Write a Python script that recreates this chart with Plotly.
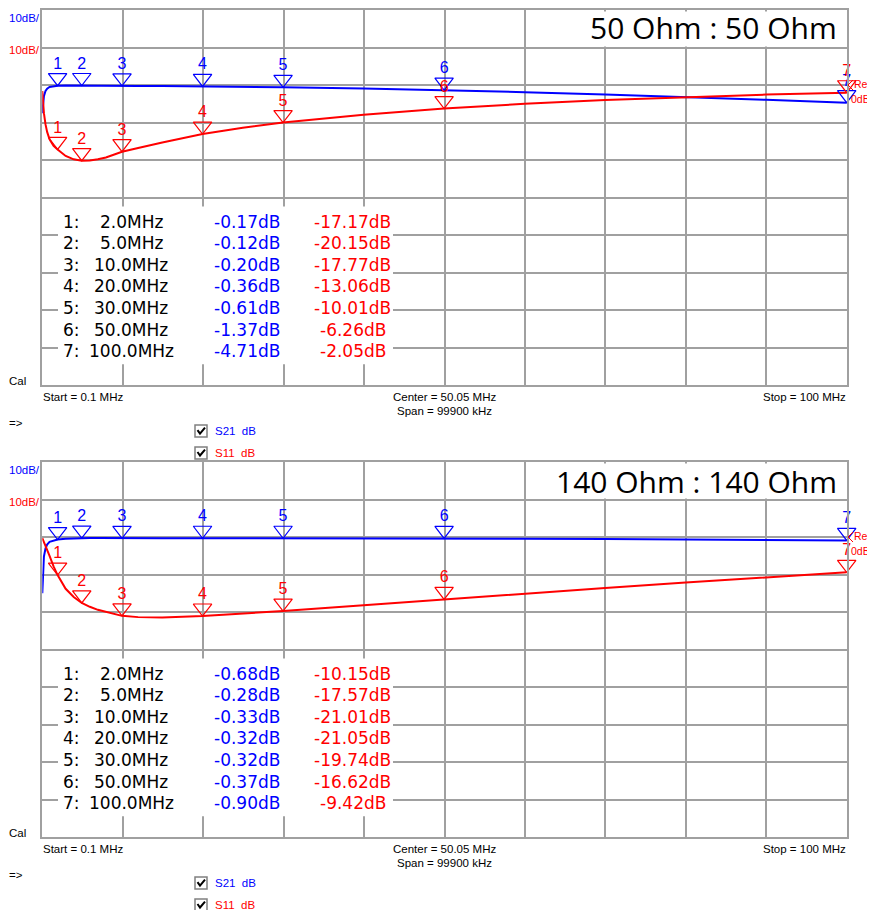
import plotly.graph_objects as go

# the page adds an 8 px body margin, so the figure is 8 px smaller than the window
PAGE = 8
W, H = 875 - PAGE, 910 - PAGE

freq_mhz = [0.1, 0.2, 0.3, 0.5, 0.7, 1.0, 1.5, 2, 3, 4, 5, 6, 7, 8, 10, 12, 15,
            20, 25, 30, 40, 50, 60, 70, 80, 90, 100]
s21_50 = [-7.5, -4.5, -3.0, -1.6, -0.95, -0.5, -0.26, -0.17, -0.13, -0.12, -0.12,
          -0.13, -0.14, -0.16, -0.20, -0.23, -0.28, -0.36, -0.48, -0.61, -0.95,
          -1.37, -1.9, -2.55, -3.2, -3.95, -4.71]
s11_50 = [-1.6, -5.0, -7.5, -10.5, -12.5, -14.5, -16.2, -17.17, -18.9, -19.8,
          -20.15, -20.1, -19.8, -19.3, -17.77, -16.8, -15.3, -13.06, -11.4,
          -10.01, -7.9, -6.26, -5.0, -4.0, -3.2, -2.55, -2.05]
s21_140 = [-15.0, -8.0, -5.2, -3.0, -2.0, -1.3, -0.9, -0.68, -0.45, -0.34, -0.28,
           -0.28, -0.29, -0.31, -0.33, -0.33, -0.33, -0.32, -0.32, -0.32, -0.34,
           -0.37, -0.45, -0.55, -0.65, -0.78, -0.90]
s11_140 = [-0.3, -0.8, -1.3, -2.4, -3.5, -5.0, -7.8, -10.15, -13.8, -16.0, -17.57,
           -18.6, -19.4, -20.0, -21.01, -21.35, -21.45, -21.05, -20.45, -19.74,
           -18.2, -16.62, -15.1, -13.6, -12.1, -10.7, -9.42]

marker_mhz = [2.0, 5.0, 10.0, 20.0, 30.0, 50.0, 100.0]
mk_s21_50 = [-0.17, -0.12, -0.20, -0.36, -0.61, -1.37, -4.71]
mk_s11_50 = [-17.17, -20.15, -17.77, -13.06, -10.01, -6.26, -2.05]
mk_s21_140 = [-0.68, -0.28, -0.33, -0.32, -0.32, -0.37, -0.90]
mk_s11_140 = [-10.15, -17.57, -21.01, -21.05, -19.74, -16.62, -9.42]

titles = ["50 Ohm : 50 Ohm", "140 Ohm : 140 Ohm"]

BLUE = "#0000ff"
RED = "#ff0000"
GRID = "#a0a0a0"
SMALL = dict(family="Liberation Sans, Arial", size=11.5, color="black")
TABLE = "DejaVu Sans"


# positions below are window pixels; convert to figure paper units
def px(x):
    return (x - PAGE) / W


def py(y):
    return 1 - (y - PAGE) / H


PLOT_L, PLOT_R = 42.3, 846.7
PANEL_TOP = [8, 461]
PLOT_H = 376
DB_PX = 100 / PLOT_H
TRI = 16  # triangle marker size; its tip sits TRI/2 px below the centre
tip_off = (TRI / 2) * DB_PX
num_off = 21 * DB_PX

panels = [
    (s21_50, s11_50, mk_s21_50, mk_s11_50),
    (s21_140, s11_140, mk_s21_140, mk_s11_140),
]

fig = go.Figure()
ann = []
shapes = []


def text(x, y, s, color="black", xanchor="left", font=None):
    f = dict(font or SMALL)
    f["color"] = color
    ann.append(dict(x=px(x), y=py(y), xref="paper", yref="paper", text=s,
                    showarrow=False, xanchor=xanchor, yanchor="middle",
                    font=f, borderpad=0))


for k, (s21, s11, m21, m11) in enumerate(panels):
    top = PANEL_TOP[k]
    xa = "x" if k == 0 else "x2"
    ya = "y" if k == 0 else "y2"

    for vals, col in ((s21, BLUE), (s11, RED)):
        fig.add_trace(go.Scatter(x=freq_mhz, y=vals, mode="lines",
                                 line=dict(color=col, width=2),
                                 xaxis=xa, yaxis=ya, showlegend=False,
                                 hoverinfo="skip"))
    for vals, col in ((m21, BLUE), (m11, RED)):
        fig.add_trace(go.Scatter(
            x=marker_mhz, y=[v + tip_off for v in vals], mode="markers",
            marker=dict(symbol="triangle-down-open", size=TRI, color=col,
                        line=dict(width=1.2, color=col)),
            cliponaxis=False, xaxis=xa, yaxis=ya, showlegend=False,
            hoverinfo="skip"))
        fig.add_trace(go.Scatter(
            x=marker_mhz, y=[v + num_off for v in vals], mode="text",
            text=[str(i + 1) for i in range(len(vals))],
            textposition="middle center",
            textfont=dict(family="Liberation Sans, Arial", size=16, color=col),
            cliponaxis=False, xaxis=xa, yaxis=ya, showlegend=False,
            hoverinfo="skip"))

    # title box
    shapes.append(dict(type="rect", xref="paper", yref="paper", layer="above",
                       x0=px(588 if k == 0 else 555), x1=px(845),
                       y0=py(top + 1.5), y1=py(top + 36.5),
                       fillcolor="white", line=dict(width=0)))
    text(838, top + 18 + 2 * k, titles[k], xanchor="right",
         font=dict(family="Open Sans", size=30))

    # marker table
    shapes.append(dict(type="rect", xref="paper", yref="paper", layer="above",
                       x0=px(58), x1=px(393), y0=py(top + 197), y1=py(top + 355),
                       fillcolor="white", line=dict(width=0)))
    tf = dict(family=TABLE, size=17)
    for i, f in enumerate(marker_mhz):
        y = top + 212 + 21.67 * i
        text(62, y, f"{i + 1}:", font=tf)
        text(131, y, f"{f:.1f}MHz", xanchor="center", font=tf)
        text(246.5, y, f"{m21[i]:.2f}dB", BLUE, xanchor="center", font=tf)
        text(352.5, y, f"{m11[i]:.2f}dB", RED, xanchor="center", font=tf)

    # scale labels and footer
    text(8, top + 8, "10dB/", BLUE)
    text(8, top + 40, "10dB/", RED)
    text(8, top + 372, "Cal")
    text(8, top + 414, "=>")
    text(PLOT_L, top + 388, "Start = 0.1 MHz")
    text(444, top + 388, "Center = 50.05 MHz", xanchor="center")
    text(444, top + 402, "Span = 99900 kHz", xanchor="center")
    text(PLOT_R, top + 388, "Stop = 100 MHz", xanchor="right")

    # reference level indicator
    ref_y = top + 2 * PLOT_H / 10
    shapes.append(dict(type="path", xref="paper", yref="paper",
                       path=f"M {px(853)},{py(ref_y - 5)} L {px(848)},{py(ref_y)} "
                            f"L {px(853)},{py(ref_y + 5)}",
                       line=dict(color=RED, width=1)))
    ref_font = dict(SMALL, size=10.5)
    text(853, ref_y - 1, "Ref2", RED, font=ref_font)
    text(850, ref_y + 14, "0dB", RED, font=ref_font)

    # trace check boxes
    for j, (lbl, col) in enumerate((("S21\u00a0\u00a0dB", BLUE), ("S11\u00a0\u00a0dB", RED))):
        cy = top + 422 + 22 * j
        shapes.append(dict(type="rect", xref="paper", yref="paper",
                           x0=px(195), x1=px(207), y0=py(cy - 6), y1=py(cy + 6),
                           fillcolor="white", line=dict(color="#808080", width=1.5)))
        shapes.append(dict(type="path", xref="paper", yref="paper",
                           path=f"M {px(197.5)},{py(cy - 1)} L {px(200)},{py(cy + 2.5)} "
                                f"L {px(205)},{py(cy - 3.5)}",
                           line=dict(color="black", width=2)))
        text(214, cy, lbl, col)

axis = dict(range=[0.1, 100], tick0=0.1, dtick=9.99, showgrid=True,
            gridcolor=GRID, gridwidth=2, showticklabels=False, ticks="",
            zeroline=False, showline=True, linecolor=GRID, linewidth=2,
            mirror=True, fixedrange=True)
yaxis = dict(axis, range=[-80, 20], tick0=0, dtick=10)

dom_x = [px(PLOT_L), px(PLOT_R)]
fig.update_layout(
    width=W, height=H,
    margin=dict(l=0, r=0, t=0, b=0),
    paper_bgcolor="white", plot_bgcolor="white",
    xaxis=dict(axis, domain=dom_x, anchor="y"),
    yaxis=dict(yaxis, domain=[py(PANEL_TOP[0] + PLOT_H), py(PANEL_TOP[0])], anchor="x"),
    xaxis2=dict(axis, domain=dom_x, anchor="y2"),
    yaxis2=dict(yaxis, domain=[py(PANEL_TOP[1] + PLOT_H), py(PANEL_TOP[1])], anchor="x2"),
    annotations=ann,
    shapes=shapes,
)

fig.write_html("out.html")
